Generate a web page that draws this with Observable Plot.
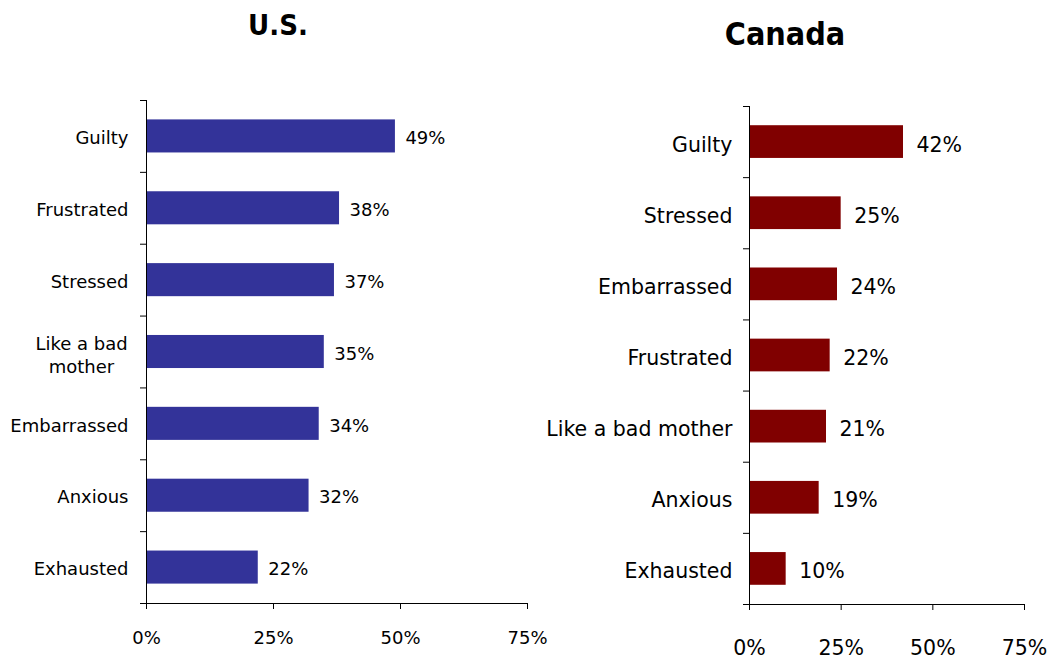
<!DOCTYPE html>
<html>
<head>
<meta charset="utf-8">
<script src="https://cdn.jsdelivr.net/npm/d3@7"></script>
<script src="https://cdn.jsdelivr.net/npm/@observablehq/plot@0.6"></script>
<style>
  html, body { margin: 0; padding: 0; background: #fff; }
  #wrap { position: relative; width: 1057px; height: 660px; font-family: "DejaVu Sans", sans-serif; }
  .panel { position: absolute; top: 0; }
  .title { position: absolute; font-family: "DejaVu Sans Condensed", "DejaVu Sans", sans-serif; font-weight: bold; color: #000; transform: translate(-50%, -50%); white-space: nowrap; }
</style>
</head>
<body>
<div id="wrap">
  <div class="title" id="t1" style="left:278px; top:25px; font-size:29px;">U.S.</div>
  <div class="title" id="t2" style="left:785px; top:34px; font-size:32px;">Canada</div>
  <div class="panel" id="left" style="left:0px; width:540px;"></div>
  <div class="panel" id="right" style="left:540px; width:517px;"></div>
</div>
<script>
// Data
const usCategories = ["Guilty", "Frustrated", "Stressed", "Like a bad\nmother", "Embarrassed", "Anxious", "Exhausted"];
const usValues = [0.49, 0.38, 0.37, 0.35, 0.34, 0.32, 0.22];
const caCategories = ["Guilty", "Stressed", "Embarrassed", "Frustrated", "Like a bad mother", "Anxious", "Exhausted"];
const caValues = [0.42, 0.25, 0.24, 0.22, 0.21, 0.19, 0.10];
const xTicks = [0, 0.25, 0.5, 0.75];
const xTickLabels = ["0%", "25%", "50%", "75%"];

function panel(cats, vals, o) {
  const data = cats.map((c, i) => ({cat: c, value: vals[i], i}));
  const n = cats.length;
  const pad = 0.27;
  const single = data.filter(d => !d.cat.includes("\n"));
  const multi = data.filter(d => d.cat.includes("\n"));
  return Plot.plot({
    width: o.width,
    height: 660,
    marginLeft: o.ml,
    marginRight: o.mr,
    marginTop: o.mt,
    marginBottom: o.mb,
    x: {domain: [0, 0.75]},
    y: {domain: [0, n], reverse: true},
    style: {fontFamily: "DejaVu Sans, sans-serif", fontSize: o.fs + "px", background: "transparent", overflow: "visible", color: "#000"},
    marks: [
      Plot.rectX(data, {x1: 0, x2: "value", y1: d => d.i + pad, y2: d => d.i + 1 - pad, fill: o.color}),
      Plot.ruleX([0], {stroke: "#000"}),
      Plot.ruleY([n], {stroke: "#000"}),
      Plot.axisY({ticks: d3.range(0, n + 1), tickSize: 6, tickFormat: () => "", label: null, stroke: "#000"}),
      Plot.axisX({ticks: xTicks, tickFormat: d => xTickLabels[xTicks.indexOf(d)], tickSize: 6, tickPadding: o.tp, label: null, fontSize: o.fs, stroke: "#000", fill: "#000"}),
      Plot.text(single, {x: 0, y: d => d.i + 0.5, text: "cat", textAnchor: "end", dx: -o.labelGap, dy: o.dy, fontSize: o.fs, fill: "#000"}),
      Plot.text(multi, {x: 0, y: d => d.i + 0.5, text: "cat", textAnchor: "middle", dx: -65, dy: o.dy, fontSize: o.fs, fill: "#000", lineHeight: 1.3}),
      Plot.text(data, {x: "value", y: d => d.i + 0.5, text: d => Math.round(d.value * 100) + "%", textAnchor: "start", dx: o.valGap, dy: o.dy, fontSize: o.fs, fill: "#000"})
    ]
  });
}

document.getElementById("left").appendChild(panel(usCategories, usValues, {
  width: 540, ml: 146, mr: 13, mt: 100, mb: 57, fs: 18, tp: 22, labelGap: 18, valGap: 10, dy: 2, color: "#333399"
}));
document.getElementById("right").appendChild(panel(caCategories, caValues, {
  width: 517, ml: 209, mr: 33, mt: 106, mb: 56, fs: 20.5, tp: 30, labelGap: 17, valGap: 13, dy: 3, color: "#800000"
}));
</script>
</body>
</html>
